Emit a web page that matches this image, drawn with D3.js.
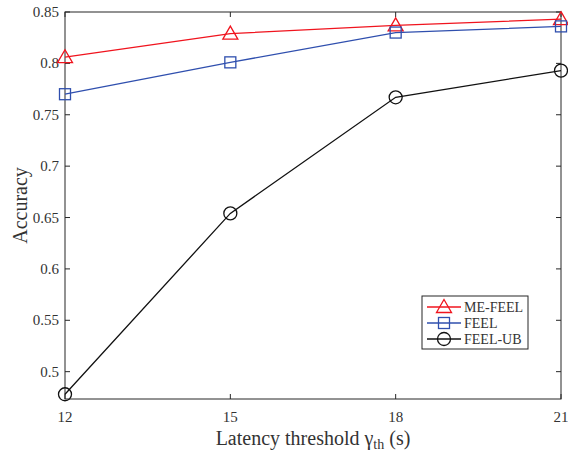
<!DOCTYPE html>
<html>
<head>
<meta charset="utf-8">
<script src="https://cdn.jsdelivr.net/npm/d3@7"></script>
<style>
  body { margin: 0; background: #fff; }
  svg text { font-family: "Liberation Serif", "Times New Roman", serif; fill: #333; }
</style>
</head>
<body>
<svg id="chart" width="568" height="453"></svg>
<script>
// Latency threshold values (x) and accuracy per scheme.
const thresholds = [12, 15, 18, 21];
const meFeel = [0.806, 0.829, 0.837, 0.843];
const feel = [0.770, 0.801, 0.830, 0.836];
const feelUB = [0.478, 0.654, 0.767, 0.793];
const yTicks = [0.5, 0.55, 0.6, 0.65, 0.7, 0.75, 0.8, 0.85];

const series = [
  { name: 'ME-FEEL', values: meFeel, color: '#f0141e', marker: 'triangle' },
  { name: 'FEEL', values: feel, color: '#2f4fae', marker: 'square' },
  { name: 'FEEL-UB', values: feelUB, color: '#111', marker: 'circle' },
];

const svg = d3.select('#chart');
const plot = { left: 65, right: 561, top: 12, bottom: 399 };

const x = d3.scaleLinear().domain([12, 21]).range([plot.left, plot.right]);
const y = d3.scaleLinear().domain([0.4734, 0.85]).range([plot.bottom, plot.top]);

const axisColor = '#262626';

// Box
svg.append('rect')
  .attr('x', plot.left).attr('y', plot.top)
  .attr('width', plot.right - plot.left).attr('height', plot.bottom - plot.top)
  .attr('fill', 'none').attr('stroke', axisColor).attr('stroke-width', 1);

// Ticks (inward, on all four sides)
const tickLen = 5;
const g = svg.append('g');
g.selectAll('.yt').data(yTicks).enter().append('path')
  .attr('d', d => `M${plot.left},${y(d)}h${tickLen}M${plot.right},${y(d)}h${-tickLen}`)
  .attr('stroke', axisColor);
g.selectAll('.xt').data(thresholds).enter().append('path')
  .attr('d', d => `M${x(d)},${plot.bottom}v${-tickLen}M${x(d)},${plot.top}v${tickLen}`)
  .attr('stroke', axisColor);

// Tick labels
g.selectAll('.yl').data(yTicks).enter().append('text')
  .attr('x', plot.left - 6).attr('y', d => y(d) + 5)
  .attr('text-anchor', 'end').attr('font-size', 15)
  .text(d => String(+d.toFixed(2)));
g.selectAll('.xl').data(thresholds).enter().append('text')
  .attr('x', d => x(d)).attr('y', plot.bottom + 23)
  .attr('text-anchor', 'middle').attr('font-size', 15)
  .text(d => d);

// Axis titles
svg.append('text')
  .attr('transform', `translate(27,${(plot.top + plot.bottom) / 2}) rotate(-90)`)
  .attr('text-anchor', 'middle').attr('font-size', 20)
  .text('Accuracy');

const xt = svg.append('text')
  .attr('x', (plot.left + plot.right) / 2).attr('y', 445)
  .attr('text-anchor', 'middle').attr('font-size', 20);
xt.append('tspan').text('Latency threshold ');
xt.append('tspan').text('γ');
xt.append('tspan').attr('font-size', 14).attr('dy', 4).text('th');
xt.append('tspan').attr('dy', -4).text(' (s)');

// Markers
function drawMarker(sel, type, color) {
  if (type === 'triangle') {
    sel.append('path').attr('d', 'M0,-7.5L7.5,5.5L-7.5,5.5Z');
  } else if (type === 'square') {
    sel.append('rect').attr('x', -5.5).attr('y', -5.5).attr('width', 11).attr('height', 11);
  } else {
    sel.append('circle').attr('r', 6.5);
  }
  sel.selectAll('*').attr('fill', 'none').attr('stroke', color).attr('stroke-width', 1.3);
}

const line = d3.line().x((d, i) => x(thresholds[i])).y(d => y(d));

series.forEach(s => {
  svg.append('path').datum(s.values)
    .attr('d', line)
    .attr('fill', 'none').attr('stroke', s.color).attr('stroke-width', 1.3);
  s.values.forEach((v, i) => {
    const m = svg.append('g').attr('transform', `translate(${x(thresholds[i])},${y(v)})`);
    drawMarker(m, s.marker, s.color);
  });
});

// Legend
const lg = svg.append('g').attr('transform', 'translate(422,296)');
lg.append('rect').attr('width', 106).attr('height', 53)
  .attr('fill', '#fff').attr('stroke', axisColor).attr('stroke-width', 1);
series.forEach((s, i) => {
  const yy = 11 + i * 16;
  lg.append('line').attr('x1', 5).attr('x2', 39).attr('y1', yy).attr('y2', yy)
    .attr('stroke', s.color).attr('stroke-width', 1.3);
  const m = lg.append('g').attr('transform', `translate(22,${yy})`);
  drawMarker(m, s.marker, s.color);
  lg.append('text').attr('x', 42).attr('y', yy + 5)
    .attr('font-size', 14).text(s.name);
});
</script>
</body>
</html>
